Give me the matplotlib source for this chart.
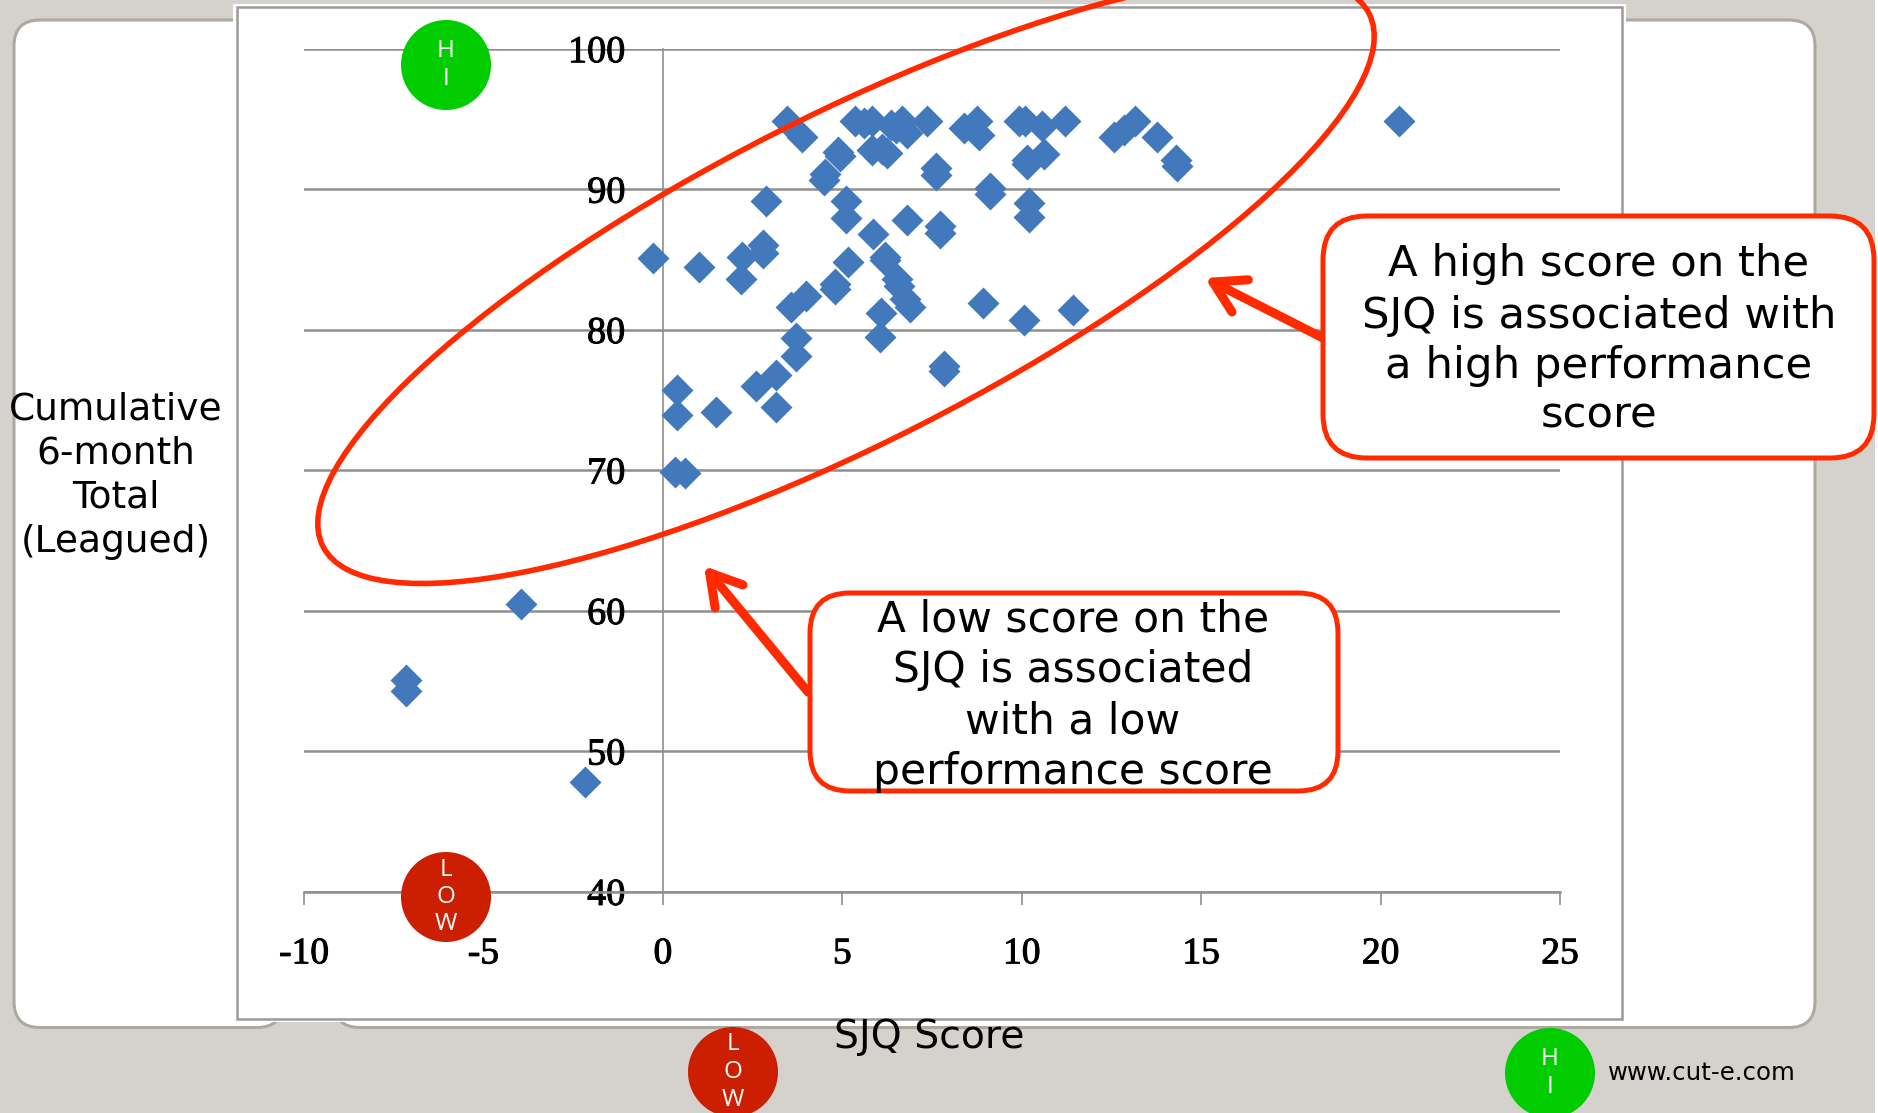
import numpy as np
import matplotlib
matplotlib.use('Agg')
import matplotlib.pyplot as plt
import matplotlib.patheffects as pe
from matplotlib.patches import Rectangle, FancyBboxPatch, Ellipse, Circle, FancyArrowPatch

plt.rcParams['axes.unicode_minus'] = False

W, H = 1878, 1113

# values
sjq_score = [3.45, 3.89, 5.36, 5.83, 5.6, 6.35, 6.67, 6.79, 6.5, 7.35, 8.38, 8.76, 8.82,
             9.93, 10.1, 10.57, 11.2, 12.57, 12.86, 13.15, 13.76, 14.3, 14.33,
             4.89, 4.95, 5.83, 6.24, 6.12, 10.16, 10.16, 10.63, 7.6, 7.6, 4.51, 4.5,
             2.87, 9.13, 9.13, 5.1, 5.1, 6.8, 10.19, 10.19, 7.73, 7.73, 5.85,
             -0.27, 1.02, 2.2, 2.78, 2.78, 2.17, 5.15, 6.18, 6.18, 6.53, 6.59, 6.88, 6.76,
             8.93, 11.42, 10.07, 6.08, 6.06, 4.8, 4.8, 4.0, 3.58,
             3.72, 3.72, 7.84, 7.84, 3.15, 2.6, 0.39, 0.4, 1.49, 3.15, 0.34, 0.63,
             20.5, -3.94, -7.17, -7.17, -2.17]
performance = [94.9, 93.7, 94.85, 94.9, 94.7, 94.6, 94.9, 94.0, 94.4, 94.9, 94.4, 94.9, 93.9,
               94.9, 94.85, 94.5, 94.9, 93.7, 94.2, 94.9, 93.7, 92.1, 91.7,
               92.7, 92.4, 92.8, 92.6, 92.9, 92.1, 91.8, 92.5, 91.5, 91.0, 91.1, 90.7,
               89.2, 90.1, 89.7, 89.2, 88.0, 87.8, 89.05, 88.05, 87.4, 86.9, 86.8,
               85.15, 84.5, 85.2, 86.05, 85.5, 83.65, 84.8, 85.2, 85.0, 83.6, 83.1, 81.6, 82.2,
               81.9, 81.4, 80.7, 81.2, 79.5, 83.3, 82.9, 82.4, 81.6,
               79.45, 78.15, 77.4, 77.1, 76.8, 76.0, 75.75, 73.95, 74.15, 74.5, 69.9, 69.8,
               94.9, 60.5, 55.1, 54.3, 47.8]
x_ticks = [-10, -5, 0, 5, 10, 15, 20, 25]
y_ticks = [40, 50, 60, 70, 80, 90, 100]

RED = '#FF2A00'
GREY = '#8F8F8F'
BG = '#D5D2CD'

fig = plt.figure(figsize=(W / 100, H / 100), dpi=100, facecolor=BG)

# slide furniture underneath, in pixel coordinates
bg = fig.add_axes([0, 0, 1, 1], zorder=0)
bg.set_xlim(0, W)
bg.set_ylim(H, 0)
bg.axis('off')
bg.add_patch(Rectangle((1875, 0), 3, H, fc='white', ec='none'))
for x0, x1 in [(14, 283), (334, 1815)]:
    bg.add_patch(FancyBboxPatch((x0, 20), x1 - x0, 1007.5, boxstyle='round,pad=0,rounding_size=26',
                                fc='white', ec='#ADA99F', lw=2.2))
bg.add_patch(Rectangle((233, 4), 1393, 1018, fc='white', ec='none'))
bg.add_patch(Rectangle((237, 7), 1385, 1012, fc='white', ec='#9A9A9A', lw=1.8))

# the chart
ax = fig.add_axes([304 / W, 1 - 891.7 / H, (1560 - 304) / W, (891.7 - 49) / H], zorder=1)
ax.patch.set_visible(False)
ax.set_xlim(-10, 25)
ax.set_ylim(40, 100)
ax.scatter(sjq_score, performance, marker='D', s=265, color='#4279BD', linewidths=0, zorder=3, clip_on=False)
ax.set_xticks(x_ticks)
ax.set_yticks(y_ticks)
ax.grid(axis='y', color=GREY, lw=1.8, zorder=1)
for ln in ax.get_ygridlines():
    ln.set_clip_on(False)
ax.spines['top'].set_visible(False)
ax.spines['right'].set_visible(False)
ax.spines['left'].set_position(('data', 0))
ax.spines['left'].set_color(GREY)
ax.spines['left'].set_linewidth(1.2)
ax.spines['bottom'].set_color(GREY)
ax.spines['bottom'].set_linewidth(1.8)
ax.tick_params(axis='x', length=9.5, width=1.2, color=GREY, pad=23, labelsize=27)
ax.tick_params(axis='y', length=0, pad=27, labelsize=27.5)
for lab in ax.get_xticklabels() + ax.get_yticklabels():
    lab.set_fontfamily('Liberation Serif')
    lab.set_path_effects([pe.withStroke(linewidth=0.7, foreground='black')])

# annotations on top
top = fig.add_axes([0, 0, 1, 1], zorder=2)
top.set_xlim(0, W)
top.set_ylim(H, 0)
top.axis('off')
top.patch.set_visible(False)

top.add_patch(Ellipse((846, 280), 2 * 587, 2 * 163, angle=-27, fc='none', ec=RED, lw=4))

for start, end in [((1323, 338), (1205, 278)), ((808, 692), (704, 566))]:
    top.add_patch(FancyArrowPatch(start, end, arrowstyle='->,head_length=22,head_width=13',
                                  color=RED, lw=6.5, mutation_scale=1, shrinkA=0, shrinkB=0))

top.add_patch(FancyBboxPatch((1323, 216), 551, 242, boxstyle='round,pad=0,rounding_size=44',
                             fc='white', ec=RED, lw=3.6))
top.add_patch(FancyBboxPatch((810, 593), 528, 198, boxstyle='round,pad=0,rounding_size=40',
                             fc='white', ec=RED, lw=3.6))

high_lines = ['A high score on the', 'SJQ is associated with', 'a high performance', 'score']
for s, y in zip(high_lines, [264, 316, 366, 416]):
    top.text(1599, y, s, fontsize=31.2, ha='center', va='center', color='black')
low_lines = ['A low score on the', 'SJQ is associated', 'with a low', 'performance score']
for s, y in zip(low_lines, [620, 670, 721, 772]):
    top.text(1073, y, s, fontsize=30.5, ha='center', va='center', color='black')

ylab_lines = ['Cumulative', '6-month', 'Total', '(Leagued)']
for s, y in zip(ylab_lines, [409, 453, 498, 542]):
    top.text(116, y, s, fontsize=27, ha='center', va='center', color='black')
top.text(929, 1037, 'SJQ Score', fontsize=28.4, ha='center', va='center', color='black')
top.text(1702, 1073, 'www.cut-e.com', fontsize=17.6, ha='center', va='center', color='black')

# HI / LOW badges
GREEN_BADGE = '#00CC00'
RED_BADGE = '#CC1E00'
for cx, cy, col, letters in [(446, 65, GREEN_BADGE, 'HI'), (446, 897, RED_BADGE, 'LOW'),
                             (733, 1072, RED_BADGE, 'LOW'), (1550, 1073, GREEN_BADGE, 'HI')]:
    top.add_patch(Circle((cx, cy), 45, fc=col, ec='none'))
    n = len(letters)
    for i, c in enumerate(letters):
        top.text(cx, cy + (i - (n - 1) / 2) * 27.5, c, fontsize=17.5, color='white', ha='center', va='center',
                 family='Open Sans')

fig.savefig('out.png', dpi=100, facecolor=BG)
